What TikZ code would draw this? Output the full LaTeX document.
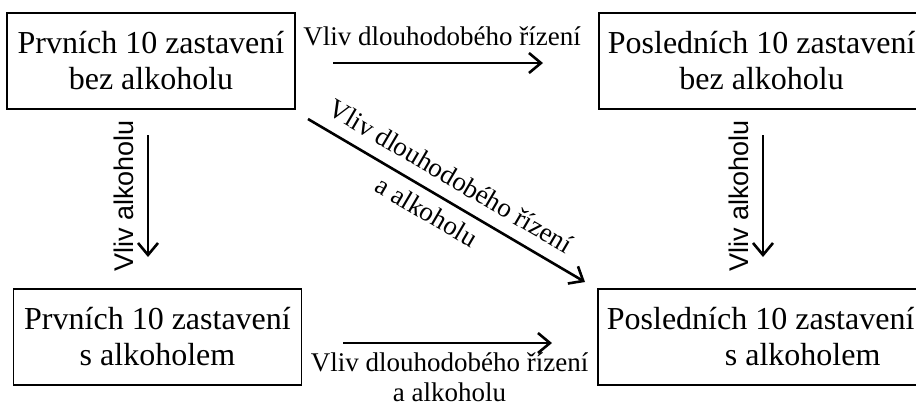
\documentclass[tikz,border=0pt]{standalone}
\usepackage{fontspec}
\setmainfont{Liberation Serif}
\setsansfont{Liberation Sans}
\usetikzlibrary{arrows.meta,positioning}
\tikzset{
	stopbox/.style={draw, line width=0.9pt, inner xsep=4.5pt, minimum height=48pt, align=center, font=\fontsize{16}{18}\selectfont},
	effarrow/.style={line width=1.3pt, -{Straight Barb[length=6pt,width=10pt]}},
	lbl/.style={font=\fontsize{13.5}{15}\selectfont, align=center, inner sep=2pt},
	vlbl/.style={font=\sffamily\fontsize{13.5}{15}\selectfont, rotate=90, anchor=south, inner sep=6.5pt}
}

\begin{document}
\begin{tikzpicture}[x=0.5pt, y=-0.5pt]
			\useasboundingbox (0,0) rectangle (916,409);
			\clip (0,0) rectangle (916,409);
			
			% the four groups of stops
			\node[stopbox, minimum width=144pt] (first-no-alc) at (151,61) {Prvních 10 zastavení\\bez alkoholu};
			\node[stopbox, anchor=west] (last-no-alc) at (598,61) {Posledních 10 zastavení\\bez alkoholu};
			\node[stopbox, minimum width=144pt] (first-alc) at (157.5,337) {Prvních 10 zastavení\\s alkoholem};
			\node[stopbox, anchor=west] (last-alc) at (597,337) {Posledních 10 zastavení\\\hspace*{42pt}s alkoholem};
			
			% arrow ends
			\coordinate (top-s) at (333,63);
			\coordinate (top-e) at (543,63);
			\coordinate (bot-s) at (343,343);
			\coordinate (bot-e) at (552,343);
			\coordinate (diag-s) at (308,119);
			\coordinate (diag-e) at (585,282);
			\coordinate (left-s) at (148,135);
			\coordinate (left-e) at (148,257);
			\coordinate (right-s) at (763,135);
			\coordinate (right-e) at (763,257);
			
			\draw[effarrow] (top-s) -- node[lbl, pos=0.52, above=6pt] {Vliv dlouhodobého řízení} (top-e);
			\draw[effarrow] (bot-s) -- node[lbl, pos=0.51, below=2pt] {Vliv dlouhodobého řízení\\a alkoholu} (bot-e);
			\draw[effarrow] (diag-s) -- node[lbl, pos=0.473, sloped, above=4.25pt] {Vliv dlouhodobého řízení}
				node[lbl, pos=0.464, sloped, below=2.3pt] {a alkoholu} (diag-e);
			\draw[effarrow] (left-s) -- node[vlbl, midway] {Vliv alkoholu} (left-e);
			\draw[effarrow] (right-s) -- node[vlbl, midway] {Vliv alkoholu} (right-e);
		
\end{tikzpicture}
\end{document}
